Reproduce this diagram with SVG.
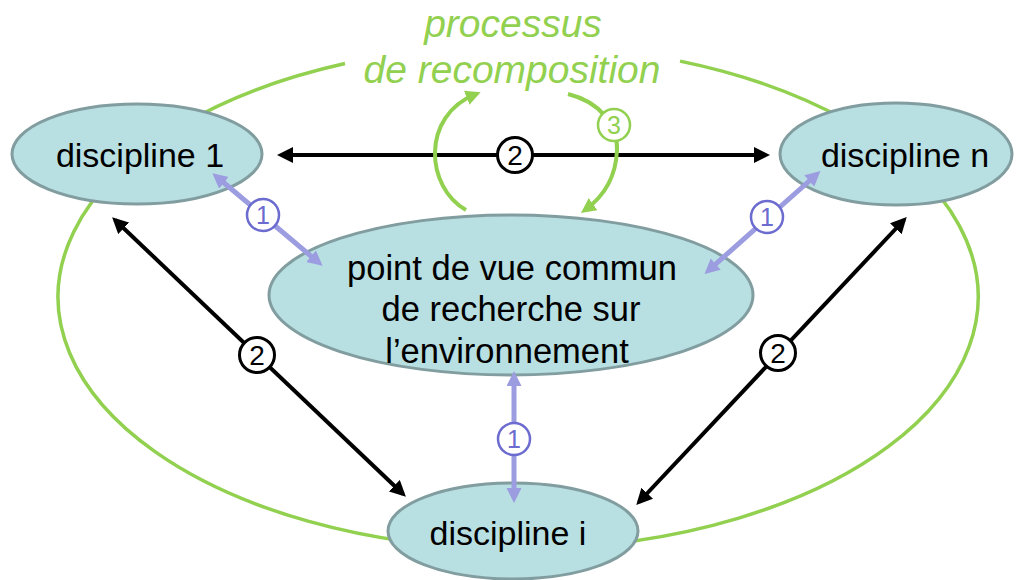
<svg xmlns="http://www.w3.org/2000/svg" width="1021" height="580" viewBox="0 0 1021 580">
  <defs>
    <style>
      .node { fill: #b8dfe2; stroke: #819d9f; stroke-width: 3; }
      .label { font-family: "Liberation Sans", Arial, sans-serif; font-size: 34px; fill: #000; text-anchor: middle; }
      .label-big { font-size: 34.5px; }
      .title { font-family: "Liberation Sans", Arial, sans-serif; font-size: 39px; font-style: italic; fill: #92d050; text-anchor: middle; }
      .outline { fill: none; stroke: #92d050; stroke-width: 3.5; }
      .black { fill: none; stroke: #000; stroke-width: 4; }
      .violet { fill: none; stroke: #9c9ce0; stroke-width: 5; }
      .green { fill: none; stroke: #92d050; stroke-width: 4; }
      .badge { fill: #fff; }
      .badge-black { stroke: #000; stroke-width: 3; }
      .badge-violet { stroke: #6b6bd0; stroke-width: 2.5; }
      .badge-green { stroke: #92d050; stroke-width: 2.5; }
      .num { font-family: "Liberation Sans", Arial, sans-serif; text-anchor: middle; }
    </style>
    <marker id="arrow-black" markerUnits="userSpaceOnUse" markerWidth="16" markerHeight="16" refX="12" refY="8" orient="auto-start-reverse">
      <path d="M0,0 L16,8 L0,16 z" fill="#000"/>
    </marker>
    <marker id="arrow-violet" markerUnits="userSpaceOnUse" markerWidth="16" markerHeight="16" refX="9" refY="7.5" orient="auto-start-reverse">
      <path d="M0,0 L15,7.5 L0,15 z" fill="#9c9ce0"/>
    </marker>
    <marker id="arrow-green" markerUnits="userSpaceOnUse" markerWidth="16" markerHeight="16" refX="10" refY="7.5" orient="auto">
      <path d="M0,0 L15,7.5 L0,15 z" fill="#92d050"/>
    </marker>
  </defs>

  <rect width="1021" height="580" fill="#fff"/>

  <!-- recomposition loop surrounding the disciplines -->
  <g id="recomposition">
    <path class="outline" d="M345,63.5 A460,252 0 1 0 680,61.1"/>
    <text class="title" x="513" y="37">processus</text>
    <text class="title" x="512" y="83">de recomposition</text>
  </g>

  <!-- nodes -->
  <g id="discipline-1">
    <ellipse class="node" cx="137" cy="154" rx="125" ry="50"/>
    <text class="label" x="140" y="167">discipline 1</text>
  </g>
  <g id="discipline-n">
    <ellipse class="node" cx="896" cy="154" rx="116" ry="51"/>
    <text class="label" x="905" y="167">discipline n</text>
  </g>
  <g id="point-de-vue">
    <ellipse class="node" cx="511" cy="295" rx="242" ry="80"/>
    <text class="label label-big" x="512" y="280">point de vue commun</text>
    <text class="label label-big" x="511" y="321">de recherche sur</text>
    <text class="label label-big" x="507" y="363">l’environnement</text>
  </g>
  <g id="discipline-i">
    <ellipse class="node" cx="513" cy="531" rx="125" ry="48"/>
    <text class="label" x="508" y="545">discipline i</text>
  </g>

  <!-- connectors -->
  <g id="connectors">
    <!-- (1) each discipline with the common viewpoint -->
    <line class="violet" x1="217" y1="177" x2="318" y2="262" marker-start="url(#arrow-violet)" marker-end="url(#arrow-violet)"/>
    <line class="violet" x1="816" y1="175" x2="709" y2="270" marker-start="url(#arrow-violet)" marker-end="url(#arrow-violet)"/>
    <line class="violet" x1="514" y1="377" x2="514" y2="497" marker-start="url(#arrow-violet)" marker-end="url(#arrow-violet)"/>

    <!-- (2) discipline to discipline -->
    <line class="black" x1="281" y1="155" x2="766" y2="155" marker-start="url(#arrow-black)" marker-end="url(#arrow-black)"/>
    <line class="black" x1="115" y1="220" x2="403" y2="494" marker-start="url(#arrow-black)" marker-end="url(#arrow-black)"/>
    <line class="black" x1="639" y1="502" x2="904" y2="220" marker-start="url(#arrow-black)" marker-end="url(#arrow-black)"/>

    <!-- (3) recomposition cycle -->
    <path class="green" d="M466,210 C426,188 420,116 476,94" marker-end="url(#arrow-green)"/>
    <path class="green" d="M568,94 C600,102 618,125 617,150 C616,176 606,195 585,210" marker-end="url(#arrow-green)"/>

    <!-- badges -->
    <circle class="badge badge-violet" cx="263" cy="215" r="16"/>
    <text class="num" x="263" y="224" font-size="25" fill="#6b6bd0">1</text>
    <circle class="badge badge-violet" cx="767" cy="217" r="16"/>
    <text class="num" x="767" y="226" font-size="25" fill="#6b6bd0">1</text>
    <circle class="badge badge-violet" cx="514" cy="439" r="16"/>
    <text class="num" x="514" y="448" font-size="25" fill="#6b6bd0">1</text>

    <circle class="badge badge-black" cx="515" cy="155" r="17.5"/>
    <text class="num" x="515" y="165" font-size="28" fill="#000">2</text>
    <circle class="badge badge-black" cx="257" cy="355" r="17.5"/>
    <text class="num" x="257" y="365" font-size="28" fill="#000">2</text>
    <circle class="badge badge-black" cx="778" cy="353" r="17.5"/>
    <text class="num" x="778" y="363" font-size="28" fill="#000">2</text>

    <circle class="badge badge-green" cx="614" cy="125" r="16"/>
    <text class="num" x="614" y="134" font-size="25" fill="#92d050">3</text>
  </g>
</svg>
